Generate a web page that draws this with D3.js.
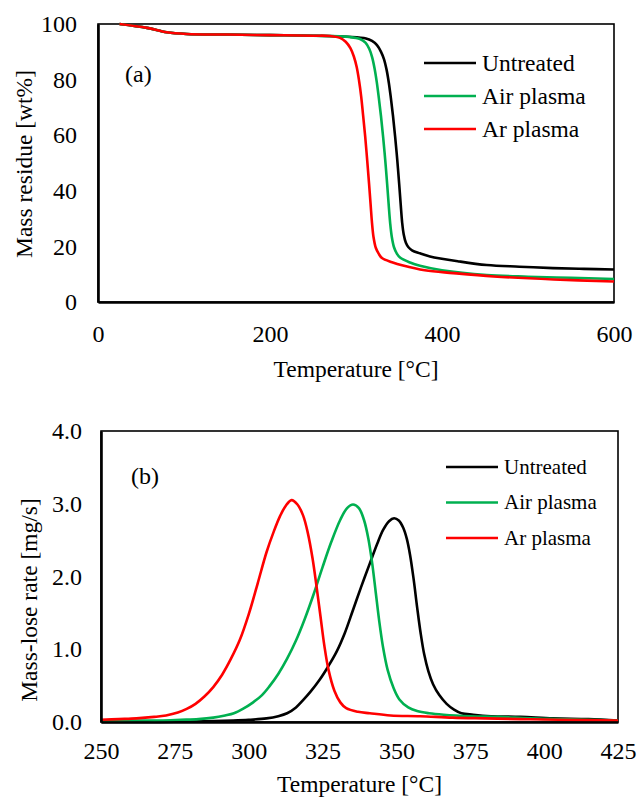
<!DOCTYPE html>
<html>
<head>
<meta charset="utf-8">
<script src="https://cdn.jsdelivr.net/npm/d3@7"></script>
<style>
  html, body { margin: 0; padding: 0; background: #fff; }
  svg { display: block; }
  text { font-family: "Liberation Serif", "Times New Roman", serif; fill: #000; }
</style>
</head>
<body>
<svg id="chart" width="640" height="798"></svg>
<script>
// ---------- Panel (a): TGA mass residue ----------
const tgaXTicks = [0, 200, 400, 600];
const tgaYTicks = [0, 20, 40, 60, 80, 100];

const untreatedT = [25, 57, 80, 103, 150, 200, 250, 290, 311.6, 318.6, 324.4, 329.1, 332.6, 335.6, 338.2, 340.5, 343.0, 345.5, 348.0, 350.2, 352.0, 353.7, 355.5, 358.0, 361.0, 365.1, 374.4, 386.0, 420, 452, 490, 529, 565, 600];
const untreatedM = [100, 98.6, 97, 96.4, 96.2, 96.0, 95.8, 95.4, 94.8, 93.9, 92.4, 90.0, 87.3, 83.5, 78.8, 73.5, 67.0, 59.5, 51.0, 42.5, 35.0, 28.5, 24.3, 21.3, 19.7, 18.6, 17.5, 16.4, 14.6, 13.3, 12.7, 12.2, 11.9, 11.7];

const airT = [25, 57, 80, 103, 150, 200, 250, 293, 304.7, 311.0, 315.5, 318.8, 321.6, 324.2, 326.5, 329.0, 331.5, 334.0, 336.2, 338.0, 339.7, 341.6, 344.2, 347.5, 351.2, 362.8, 374.4, 400, 452, 500, 550, 600];
const airM = [100, 98.6, 97, 96.4, 96.2, 96.0, 95.8, 95.3, 94.6, 93.3, 91.0, 88.0, 84.0, 79.0, 73.5, 67.0, 59.5, 51.0, 42.5, 35.0, 28.5, 23.5, 19.7, 17.4, 16.0, 14.2, 13.0, 11.4, 9.7, 9.1, 8.7, 8.3];

const arT = [25, 57, 80, 103, 150, 200, 250, 269.8, 281.4, 288.0, 293.5, 297.5, 300.8, 303.6, 306.0, 308.3, 310.7, 313.0, 315.2, 317.0, 318.6, 320.4, 323.0, 326.5, 330.2, 341.9, 354.7, 380, 413, 460, 530, 600];
const arM = [100, 98.6, 97, 96.4, 96.2, 96.0, 95.8, 95.7, 95.0, 93.6, 91.3, 88.3, 84.5, 79.5, 74.0, 67.0, 59.5, 51.0, 42.5, 35.0, 28.5, 23.3, 19.5, 17.3, 15.8, 14.3, 13.1, 11.4, 10.4, 9.2, 8.1, 7.4];

// ---------- Panel (b): DTG mass-lose rate ----------
const dtgXTicks = [250, 275, 300, 325, 350, 375, 400, 425];
const dtgYTicks = [0, 1, 2, 3, 4];

const untreatedRT = [250, 270, 285, 294.7, 300, 306, 310, 313, 316, 318.4, 321, 324, 327, 329.8, 332.5, 335.3, 338, 341, 343.5, 345.5, 347.5, 349.2, 350.8, 352.3, 353.5, 354.6, 355.8, 357, 358.2, 359.4, 360.8, 362.4, 364.5, 367, 369.5, 372, 376, 382, 392, 403, 415, 425];
const untreatedR = [0.0, 0.0, 0.01, 0.02, 0.03, 0.05, 0.08, 0.12, 0.2, 0.3, 0.42, 0.58, 0.77, 0.97, 1.22, 1.54, 1.85, 2.18, 2.45, 2.64, 2.76, 2.80, 2.77, 2.67, 2.52, 2.3, 1.97, 1.58, 1.22, 0.93, 0.7, 0.52, 0.37, 0.25, 0.17, 0.12, 0.1, 0.08, 0.07, 0.05, 0.04, 0.02];

const airRT = [250, 262, 270, 277, 283, 288, 292, 295, 298, 301.5, 304.5, 307, 310, 313, 316, 319, 322, 325, 328, 331, 333.3, 335.3, 337.3, 339, 340.5, 341.8, 343, 344.2, 345.5, 347, 349, 351, 354, 357, 361, 366, 375, 385, 395, 405, 415, 425];
const airR = [0.01, 0.02, 0.02, 0.03, 0.04, 0.06, 0.09, 0.12, 0.18, 0.27, 0.37, 0.49, 0.66, 0.87, 1.12, 1.42, 1.76, 2.13, 2.48, 2.78, 2.94, 2.99, 2.94, 2.78, 2.52, 2.18, 1.78, 1.38, 1.02, 0.72, 0.47, 0.31, 0.2, 0.15, 0.12, 0.1, 0.08, 0.07, 0.05, 0.04, 0.03, 0.02];

const arRT = [250, 256, 262, 268, 272, 276, 279, 282, 285, 288, 291, 294, 297, 300, 303, 306, 308.5, 310.6, 312.5, 314.5, 316.5, 318.4, 320, 321.6, 323, 324.3, 325.6, 327, 329, 331, 333, 337, 341, 348, 358, 369, 380, 392, 405, 425];
const arR = [0.03, 0.04, 0.05, 0.07, 0.09, 0.13, 0.18, 0.25, 0.35, 0.48, 0.65, 0.87, 1.13, 1.48, 1.9, 2.33, 2.62, 2.83, 2.97, 3.05, 2.99, 2.84, 2.6, 2.25, 1.85, 1.45, 1.05, 0.72, 0.43, 0.27, 0.19, 0.14, 0.12, 0.09, 0.08, 0.06, 0.05, 0.04, 0.03, 0.02];

const seriesNames = ["Untreated", "Air plasma", "Ar plasma"];
const seriesColors = ["#000000", "#00B050", "#FF0000"];

const svg = d3.select("#chart");
const FONT_TICK = 24, FONT_TITLE = 23.5;

function panel(opts) {
  const { x, y, xTicks, yTicks, yFmt, series, xPad, yPad, xTitleY, yTitleX, yTitleY, label, labelPos, legend } = opts;
  const g = svg.append("g");
  const [x0, x1] = x.range();
  const [yb, yt] = y.range();

  // plot border (top/right)
  g.append("rect")
    .attr("x", x0).attr("y", yt)
    .attr("width", x1 - x0).attr("height", yb - yt)
    .attr("fill", "none").attr("stroke", "#000").attr("stroke-width", 1.6);

  // series
  const line = d3.line().x(d => x(d[0])).y(d => y(d[1])).curve(d3.curveCatmullRom.alpha(0.5));
  series.forEach((s, i) => {
    const pts = s.t.map((t, k) => [t, s.v[k]]);
    g.append("path").datum(pts)
      .attr("d", line)
      .attr("fill", "none")
      .attr("stroke", seriesColors[i])
      .attr("stroke-width", 2.6)
      .attr("stroke-linejoin", "round");
  });

  // axes
  const xa = g.append("g").attr("transform", `translate(0,${yb})`)
    .call(d3.axisBottom(x).tickValues(xTicks).tickSize(0).tickSizeOuter(0).tickPadding(xPad).tickFormat(d3.format("d")));
  const ya = g.append("g").attr("transform", `translate(${x0},0)`)
    .call(d3.axisLeft(y).tickValues(yTicks).tickSize(0).tickSizeOuter(0).tickPadding(yPad).tickFormat(yFmt));
  [xa, ya].forEach(a => {
    a.select(".domain").attr("stroke", "#000").attr("stroke-width", 2.6);
    a.selectAll("text").attr("font-size", FONT_TICK).attr("font-family", "Liberation Serif, Times New Roman, serif").attr("fill", "#000");
  });

  // axis titles
  g.append("text")
    .attr("x", (x0 + x1) / 2).attr("y", xTitleY)
    .attr("text-anchor", "middle").attr("font-size", FONT_TITLE)
    .text("Temperature [°C]");
  g.append("text")
    .attr("transform", `translate(${yTitleX},${yTitleY}) rotate(-90)`)
    .attr("text-anchor", "middle").attr("font-size", FONT_TITLE)
    .text(opts.yTitle);

  // panel label
  g.append("text").attr("x", labelPos[0]).attr("y", labelPos[1])
    .attr("font-size", 24).text(label);

  // legend
  seriesNames.forEach((name, i) => {
    const ly = legend.y0 + i * legend.dy;
    g.append("line")
      .attr("x1", legend.x).attr("x2", legend.x + legend.w)
      .attr("y1", ly).attr("y2", ly)
      .attr("stroke", seriesColors[i]).attr("stroke-width", 2.6);
    g.append("text")
      .attr("x", legend.x + legend.w + 6).attr("y", ly).attr("dy", "0.32em")
      .attr("font-size", legend.fs).text(name);
  });
}

panel({
  x: d3.scaleLinear().domain([0, 600]).range([98, 614]),
  y: d3.scaleLinear().domain([0, 100]).range([302, 24]),
  xTicks: tgaXTicks, yTicks: tgaYTicks, yFmt: d3.format("d"),
  series: [
    { t: untreatedT, v: untreatedM },
    { t: airT, v: airM },
    { t: arT, v: arM }
  ],
  xPad: 23, yPad: 21,
  xTitleY: 377, yTitleX: 32, yTitleY: 164,
  yTitle: "Mass residue [wt%]",
  label: "(a)", labelPos: [125, 82],
  legend: { x: 424, w: 52, y0: 63, dy: 33, fs: 23.5 }
});

panel({
  x: d3.scaleLinear().domain([250, 425]).range([101, 618]),
  y: d3.scaleLinear().domain([0, 4]).range([722, 431]),
  xTicks: dtgXTicks, yTicks: dtgYTicks, yFmt: d3.format(".1f"),
  series: [
    { t: untreatedRT, v: untreatedR },
    { t: airRT, v: airR },
    { t: arRT, v: arR }
  ],
  xPad: 20, yPad: 19,
  xTitleY: 792, yTitleX: 37, yTitleY: 600,
  yTitle: "Mass-lose rate [mg/s]",
  label: "(b)", labelPos: [131, 484],
  legend: { x: 446, w: 52, y0: 467, dy: 35.5, fs: 21 }
});
</script>
</body>
</html>
